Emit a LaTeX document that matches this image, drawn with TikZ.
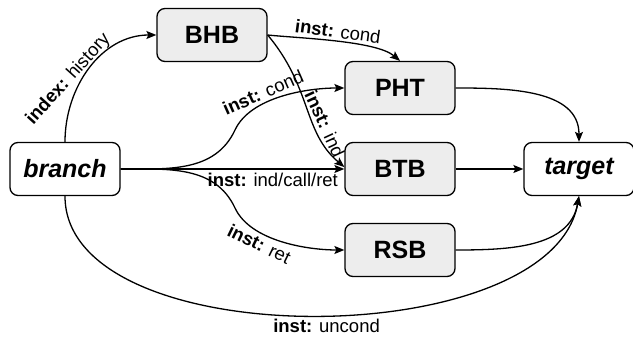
\documentclass[tikz,border=0pt]{standalone}
\usepackage{fontspec}
\setmainfont{Liberation Sans}
\usetikzlibrary{arrows.meta}

\begin{document}
\begin{tikzpicture}[x=0.5pt,y=-0.5pt,line width=0.65pt,
    unit/.style={draw,rounded corners=4pt,fill=black!7,minimum width=55pt,
      minimum height=26.5pt,font=\fontsize{12.5}{15}\selectfont\bfseries},
    io/.style={unit,fill=white,font=\fontsize{12.5}{15}\selectfont\bfseries\itshape},
    lbl/.style={font=\fontsize{9.25}{11}\selectfont,inner sep=1.5pt},
    >={Stealth[length=5pt,width=4pt,inset=1pt]}]
  \useasboundingbox (0,0) rectangle (633,341);
  % boxes
  \node[io]   (branch) at (65,169)  {branch};
  \node[unit] (bhb)    at (212,35)  {BHB};
  \node[unit] (pht)    at (400,88)  {PHT};
  \node[unit] (btb)    at (400,169) {BTB};
  \node[unit] (rsb)    at (400,250) {RSB};
  \node[io]   (target) at (579,169) {target};
  \coordinate (up) at (235,130);
  \coordinate (dn) at (235,208);
  % from branch
  \draw[->] (branch.north) to[out=90,in=180]
    node[lbl,rotate=48,anchor=south,pos=0.35] {\textbf{index:} history} (bhb.west);
  \draw[->] (branch.east) to[out=0,in=-115] (up)
    to[out=65,in=180,looseness=0.8]
    node[lbl,sloped,above,pos=0.38] {\textbf{inst:} cond} (pht.west);
  \draw[->] (branch.east) --
    node[lbl,below,pos=0.68] {\textbf{inst:} ind/call/ret} (btb.west);
  \draw[->] (branch.east) to[out=0,in=115] (dn)
    to[out=-65,in=180,looseness=0.8]
    node[lbl,sloped,below,pos=0.35] {\textbf{inst:} ret} (rsb.west);
  \draw[->] (branch.south) to[out=-90,in=-100,looseness=0.8]
    node[lbl,below,pos=0.52] {\textbf{inst:} uncond} (target.south);
  % from BHB
  \draw[->] (bhb.east) to[out=-6,in=140,looseness=0.6]
    node[lbl,sloped,above,pos=0.5] {\textbf{inst:} cond} (pht.north);
  \draw[->] (bhb.east) to[out=-50,in=140,out looseness=1.16,in looseness=0.91]
    node[lbl,sloped,above,pos=0.66] {\textbf{inst:} ind} (btb.178);
  % into target
  \draw[->] (pht.east) to[out=0,in=90] (target.north);
  \draw[->] (btb.east) -- (target.west);
  \draw[->] (rsb.east) to[out=0,in=-100] (target.south);
\end{tikzpicture}
\end{document}
